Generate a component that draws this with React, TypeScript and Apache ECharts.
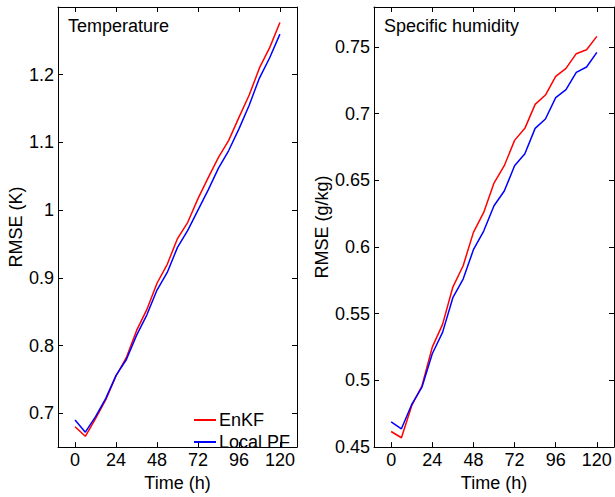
import React, { useEffect, useRef } from "react";
import * as echarts from "echarts";

const times = [0, 6, 12, 18, 24, 30, 36, 42, 48, 54, 60, 66, 72, 78, 84, 90, 96, 102, 108, 114, 120];

const tempEnKF = [0.68, 0.666, 0.692, 0.72, 0.755, 0.782, 0.822, 0.853, 0.892, 0.92, 0.958, 0.982, 1.017, 1.048, 1.078, 1.103, 1.137, 1.17, 1.21, 1.24, 1.277];
const tempLocalPF = [0.69, 0.672, 0.695, 0.722, 0.756, 0.779, 0.815, 0.845, 0.882, 0.908, 0.945, 0.97, 1.0, 1.03, 1.062, 1.088, 1.12, 1.155, 1.195, 1.225, 1.26];

const humEnKF = [0.4617, 0.457, 0.481, 0.496, 0.525, 0.542, 0.57, 0.586, 0.611, 0.626, 0.648, 0.661, 0.68, 0.689, 0.707, 0.714, 0.728, 0.734, 0.745, 0.748, 0.758];
const humLocalPF = [0.469, 0.4637, 0.482, 0.495, 0.52, 0.536, 0.562, 0.576, 0.598, 0.612, 0.631, 0.642, 0.661, 0.67, 0.689, 0.696, 0.712, 0.718, 0.731, 0.735, 0.746];

const xTicks = [0, 24, 48, 72, 96, 120];
const tempTicks = [0.7, 0.8, 0.9, 1.0, 1.1, 1.2];
const humTicks = [0.45, 0.5, 0.55, 0.6, 0.65, 0.7, 0.75];

const FONT = "Liberation Sans, Arial, Helvetica, sans-serif";
const FS = 18;

function pairs(xs: number[], ys: number[]) {
  return xs.map((x, i) => [x, ys[i]]);
}

export default function App() {
  const ref = useRef<HTMLDivElement>(null);
  useEffect(() => {
    document.body.style.margin = "0";
    const chart = echarts.init(ref.current!, undefined, { renderer: "svg" });
    const axisLine = { show: true, onZero: false, lineStyle: { color: "#000", width: 1 } };
    const tick = (vals: number[]) => ({ show: true, inside: true, length: 5, customValues: vals, lineStyle: { color: "#000", width: 1 } });
    const mkX = (grid: number, pos: "bottom" | "top") => ({
      type: "value",
      gridIndex: grid,
      position: pos,
      min: -10,
      max: 130,
      axisLine,
      axisTick: tick(xTicks),
      splitLine: { show: false },
      axisLabel: pos === "bottom"
        ? { show: true, customValues: xTicks, margin: 4, color: "#000", fontSize: FS, fontFamily: FONT }
        : { show: false },
      name: pos === "bottom" ? "Time (h)" : "",
      nameLocation: "middle",
      nameGap: 22,
      nameTextStyle: { color: "#000", fontSize: FS, fontFamily: FONT },
    });
    const mkY = (grid: number, pos: "left" | "right", min: number, max: number, ticks: number[], name: string, gap: number) => ({
      type: "value",
      gridIndex: grid,
      position: pos,
      min,
      max,
      axisLine,
      axisTick: tick(ticks),
      splitLine: { show: false },
      axisLabel: pos === "left"
        ? { show: true, customValues: ticks, margin: 4, color: "#000", fontSize: FS, fontFamily: FONT, formatter: (v: number) => String(Number(v.toFixed(2))) }
        : { show: false },
      name: pos === "left" ? name : "",
      nameLocation: "middle",
      nameGap: gap,
      nameTextStyle: { color: "#000", fontSize: FS, fontFamily: FONT },
    });
    const line = (name: string, data: number[][], color: string, xi: number, yi: number) => ({
      type: "line",
      name,
      data,
      xAxisIndex: xi,
      yAxisIndex: yi,
      symbol: "none",
      showSymbol: false,
      lineStyle: { color, width: 1.5 },
      itemStyle: { color },
      clip: true,
    });
    chart.setOption({
      animation: false,
      backgroundColor: "#fff",
      title: [
        { text: "Temperature", left: 68, top: 17, padding: 0, textStyle: { color: "#000", fontSize: FS, fontWeight: "normal", fontFamily: FONT } },
        { text: "Specific humidity", left: 384, top: 17, padding: 0, textStyle: { color: "#000", fontSize: FS, fontWeight: "normal", fontFamily: FONT } },
      ],
      legend: {
        data: ["EnKF", "Local PF"],
        orient: "vertical",
        left: 194,
        top: 411,
        padding: 0,
        itemGap: 4,
        itemWidth: 22,
        itemHeight: 2,
        icon: "rect",
        textStyle: { color: "#000", fontSize: FS, fontFamily: FONT, padding: [0, 0, 0, -2] },
      },
      grid: [
        { left: 58, top: 7, width: 239, height: 450 },
        { left: 374, top: 7, width: 240, height: 450 },
      ],
      xAxis: [mkX(0, "bottom"), mkX(0, "top"), mkX(1, "bottom"), mkX(1, "top")],
      yAxis: [
        mkY(0, "left", 0.65, 1.3, tempTicks, "RMSE (K)", 32),
        mkY(0, "right", 0.65, 1.3, tempTicks, "", 0),
        mkY(1, "left", 0.45, 0.78, humTicks, "RMSE (g/kg)", 43),
        mkY(1, "right", 0.45, 0.78, humTicks, "", 0),
      ],
      series: [
        line("EnKF", pairs(times, tempEnKF), "#ff0000", 0, 0),
        line("Local PF", pairs(times, tempLocalPF), "#0000ff", 0, 0),
        line("EnKF", pairs(times, humEnKF), "#ff0000", 2, 2),
        line("Local PF", pairs(times, humLocalPF), "#0000ff", 2, 2),
      ],
    });
    return () => chart.dispose();
  }, []);
  return <div ref={ref} style={{ width: 615, height: 497 }} />;
}
